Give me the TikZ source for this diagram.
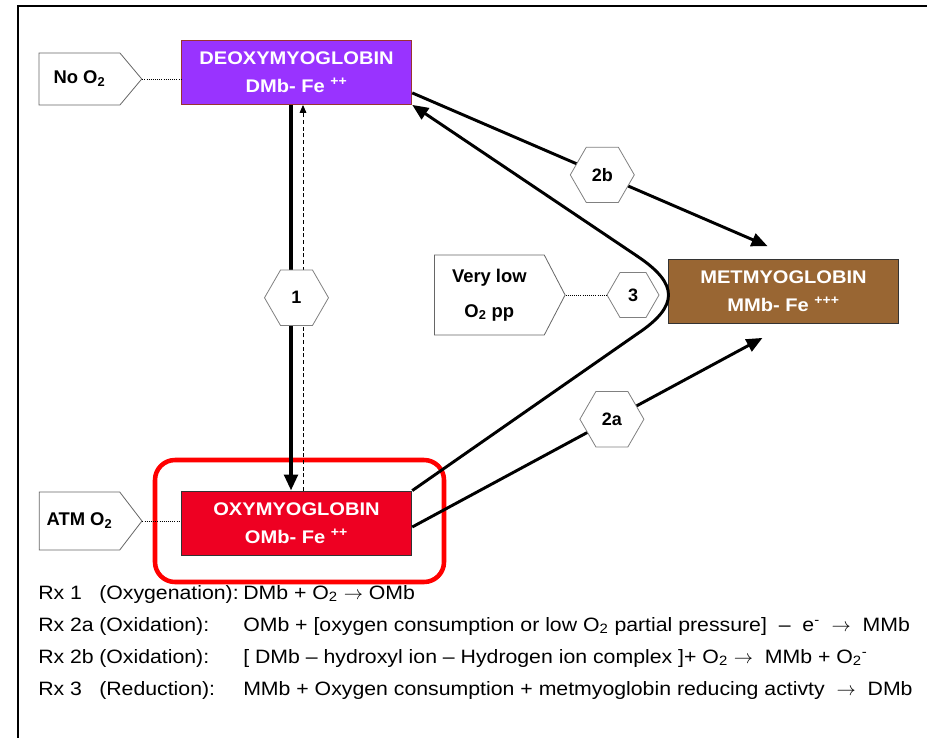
\documentclass[tikz,border=0pt]{standalone}
\usepackage{fontspec}
\setmainfont{Liberation Sans}
\newfontfamily\widefont[Ligatures=TeX, FakeStretch=1.1]{Liberation Sans}
\usepackage{tikz}
\usetikzlibrary{positioning}
\usetikzlibrary{calc}
\usetikzlibrary{arrows.meta}
\usetikzlibrary{shapes.geometric}
\usetikzlibrary{shapes.symbols}

\definecolor{deoxy}{HTML}{9933FF}
\definecolor{oxy}{HTML}{EE0022}
\definecolor{met}{HTML}{996633}
\definecolor{maroon}{HTML}{993333}

\begin{document}
\begin{tikzpicture}[x=0.75pt, y=-0.75pt,
  state/.style={draw=black!80, line width=0.6pt, minimum width=173pt, minimum height=48pt,
    inner sep=0pt, text=white, align=center, font=\widefont\fontsize{13.7}{21}\selectfont\bfseries},
  cause/.style={draw=black!60, line width=0.6pt, fill=white, signal, signal to=east, signal from=nowhere,
    inner sep=0pt, align=center, font=\fontsize{13.8}{26}\selectfont\bfseries},
  hexa/.style={draw=black!50, line width=0.6pt, fill=white, regular polygon, regular polygon sides=6,
    minimum size=48pt, inner sep=0pt, font=\fontsize{13.5}{16}\selectfont\bfseries},
  flow/.style={line width=2.2pt, -{Triangle[length=12pt,width=10pt]}},
  link/.style={densely dotted, line width=0.6pt},
  rx/.style={anchor=base west, inner sep=0pt, font=\widefont\fontsize{14.5}{16}\selectfont}
]
  \useasboundingbox (0,0) rectangle (927,738);
  \draw[line width=1.8pt] (927,6) -- (18,6) -- (18,738);

  % the three forms of myoglobin
  \node[state, fill=deoxy, draw=maroon] (dmb) at (296.5,72.5) {DEOXYMYOGLOBIN\\DMb- Fe \textsuperscript{++}};
  \node[state, fill=oxy] (omb) at (296.5,523) {OXYMYOGLOBIN\\OMb- Fe \textsuperscript{++}};
  \node[state, fill=met] (mmb) at (783.5,291.5) {METMYOGLOBIN\\MMb- Fe \textsuperscript{+++}};

  % highlight
  \draw[red, line width=3.4pt, rounded corners=15pt] (155,460) rectangle (444,582);

  % conditions
  \node[cause, minimum width=77pt, minimum height=39pt, signal pointer angle=100] (noo2) at (79.5,79) {No O\textsubscript{2}};
  \node[cause, minimum width=77pt, minimum height=43.5pt, signal pointer angle=105] (atmo2) at (79.5,521) {ATM O\textsubscript{2}};
  \node[hexa, minimum size=39pt] (r3) at (633,295) {3};
  \node[cause, minimum width=98pt, minimum height=60pt, signal pointer angle=125, left=30.75pt of r3] (verylow) {Very low\\O\textsubscript{2} pp};

  \draw[link] (noo2.east) -- (noo2.east -| dmb.west);
  \draw[link] (atmo2.east) -- (atmo2.east -| omb.west);
  \draw[link] (verylow.east) -- (r3.west);

  % reaction 1
  \draw[line width=3.5pt, -{Triangle[length=12pt,width=10pt]}] ($(dmb.south)+(-5.5,0)$) -- ($(omb.north)+(-5.5,0)$);
  \draw[line width=0.7pt, dash pattern=on 3pt off 2pt, -{Triangle[length=6pt,width=5pt]}] ($(omb.north)+(6.5,0)$) -- ($(dmb.south)+(6.5,0)$);
  \node[hexa] (r1) at ($(dmb.south)!0.5!(omb.north)$) {1};

  % reactions 2a, 2b, 3
  \draw[flow] (dmb.-10.5) -- node[hexa, pos=0.535] (r2b) {2b} ($(mmb.north)+(-16,-13)$);
  \draw[flow] ($(omb.east)+(0,4)$) -- node[hexa, pos=0.57] (r2a) {2a} ($(mmb.south)+(-21,14)$);
  \draw[flow] (omb.north east) -- (637,334) .. controls (679,306) and (679,284) .. (637,256) -- (dmb.south east);

  % reaction list
  \foreach \a/\b/\c [count=\n] in {
    {Rx 1}/{(Oxygenation):}/{DMb + O\textsubscript{2} $\rightarrow$ OMb},
    {Rx 2a}/{(Oxidation):}/{OMb + [oxygen consumption or low O\textsubscript{2} partial pressure] \ -- \ e\textsuperscript{-} \ $\rightarrow$ \ MMb},
    {Rx 2b}/{(Oxidation):}/{[ DMb -- hydroxyl ion -- Hydrogen ion complex ]+ O\textsubscript{2} $\rightarrow$ \ MMb + O\textsubscript{2}\textsuperscript{-}},
    {Rx 3}/{(Reduction):}/{MMb + Oxygen consumption + metmyoglobin reducing activty \ $\rightarrow$ \ DMb}
  } {
    \node[rx] (rx\n) at (38,567+32*\n) {\a};
    \node[rx] (kind\n) at (99,567+32*\n) {\b};
    \node[rx] (eq\n) at (243,567+32*\n) {\c};
  }
\end{tikzpicture}
\end{document}
